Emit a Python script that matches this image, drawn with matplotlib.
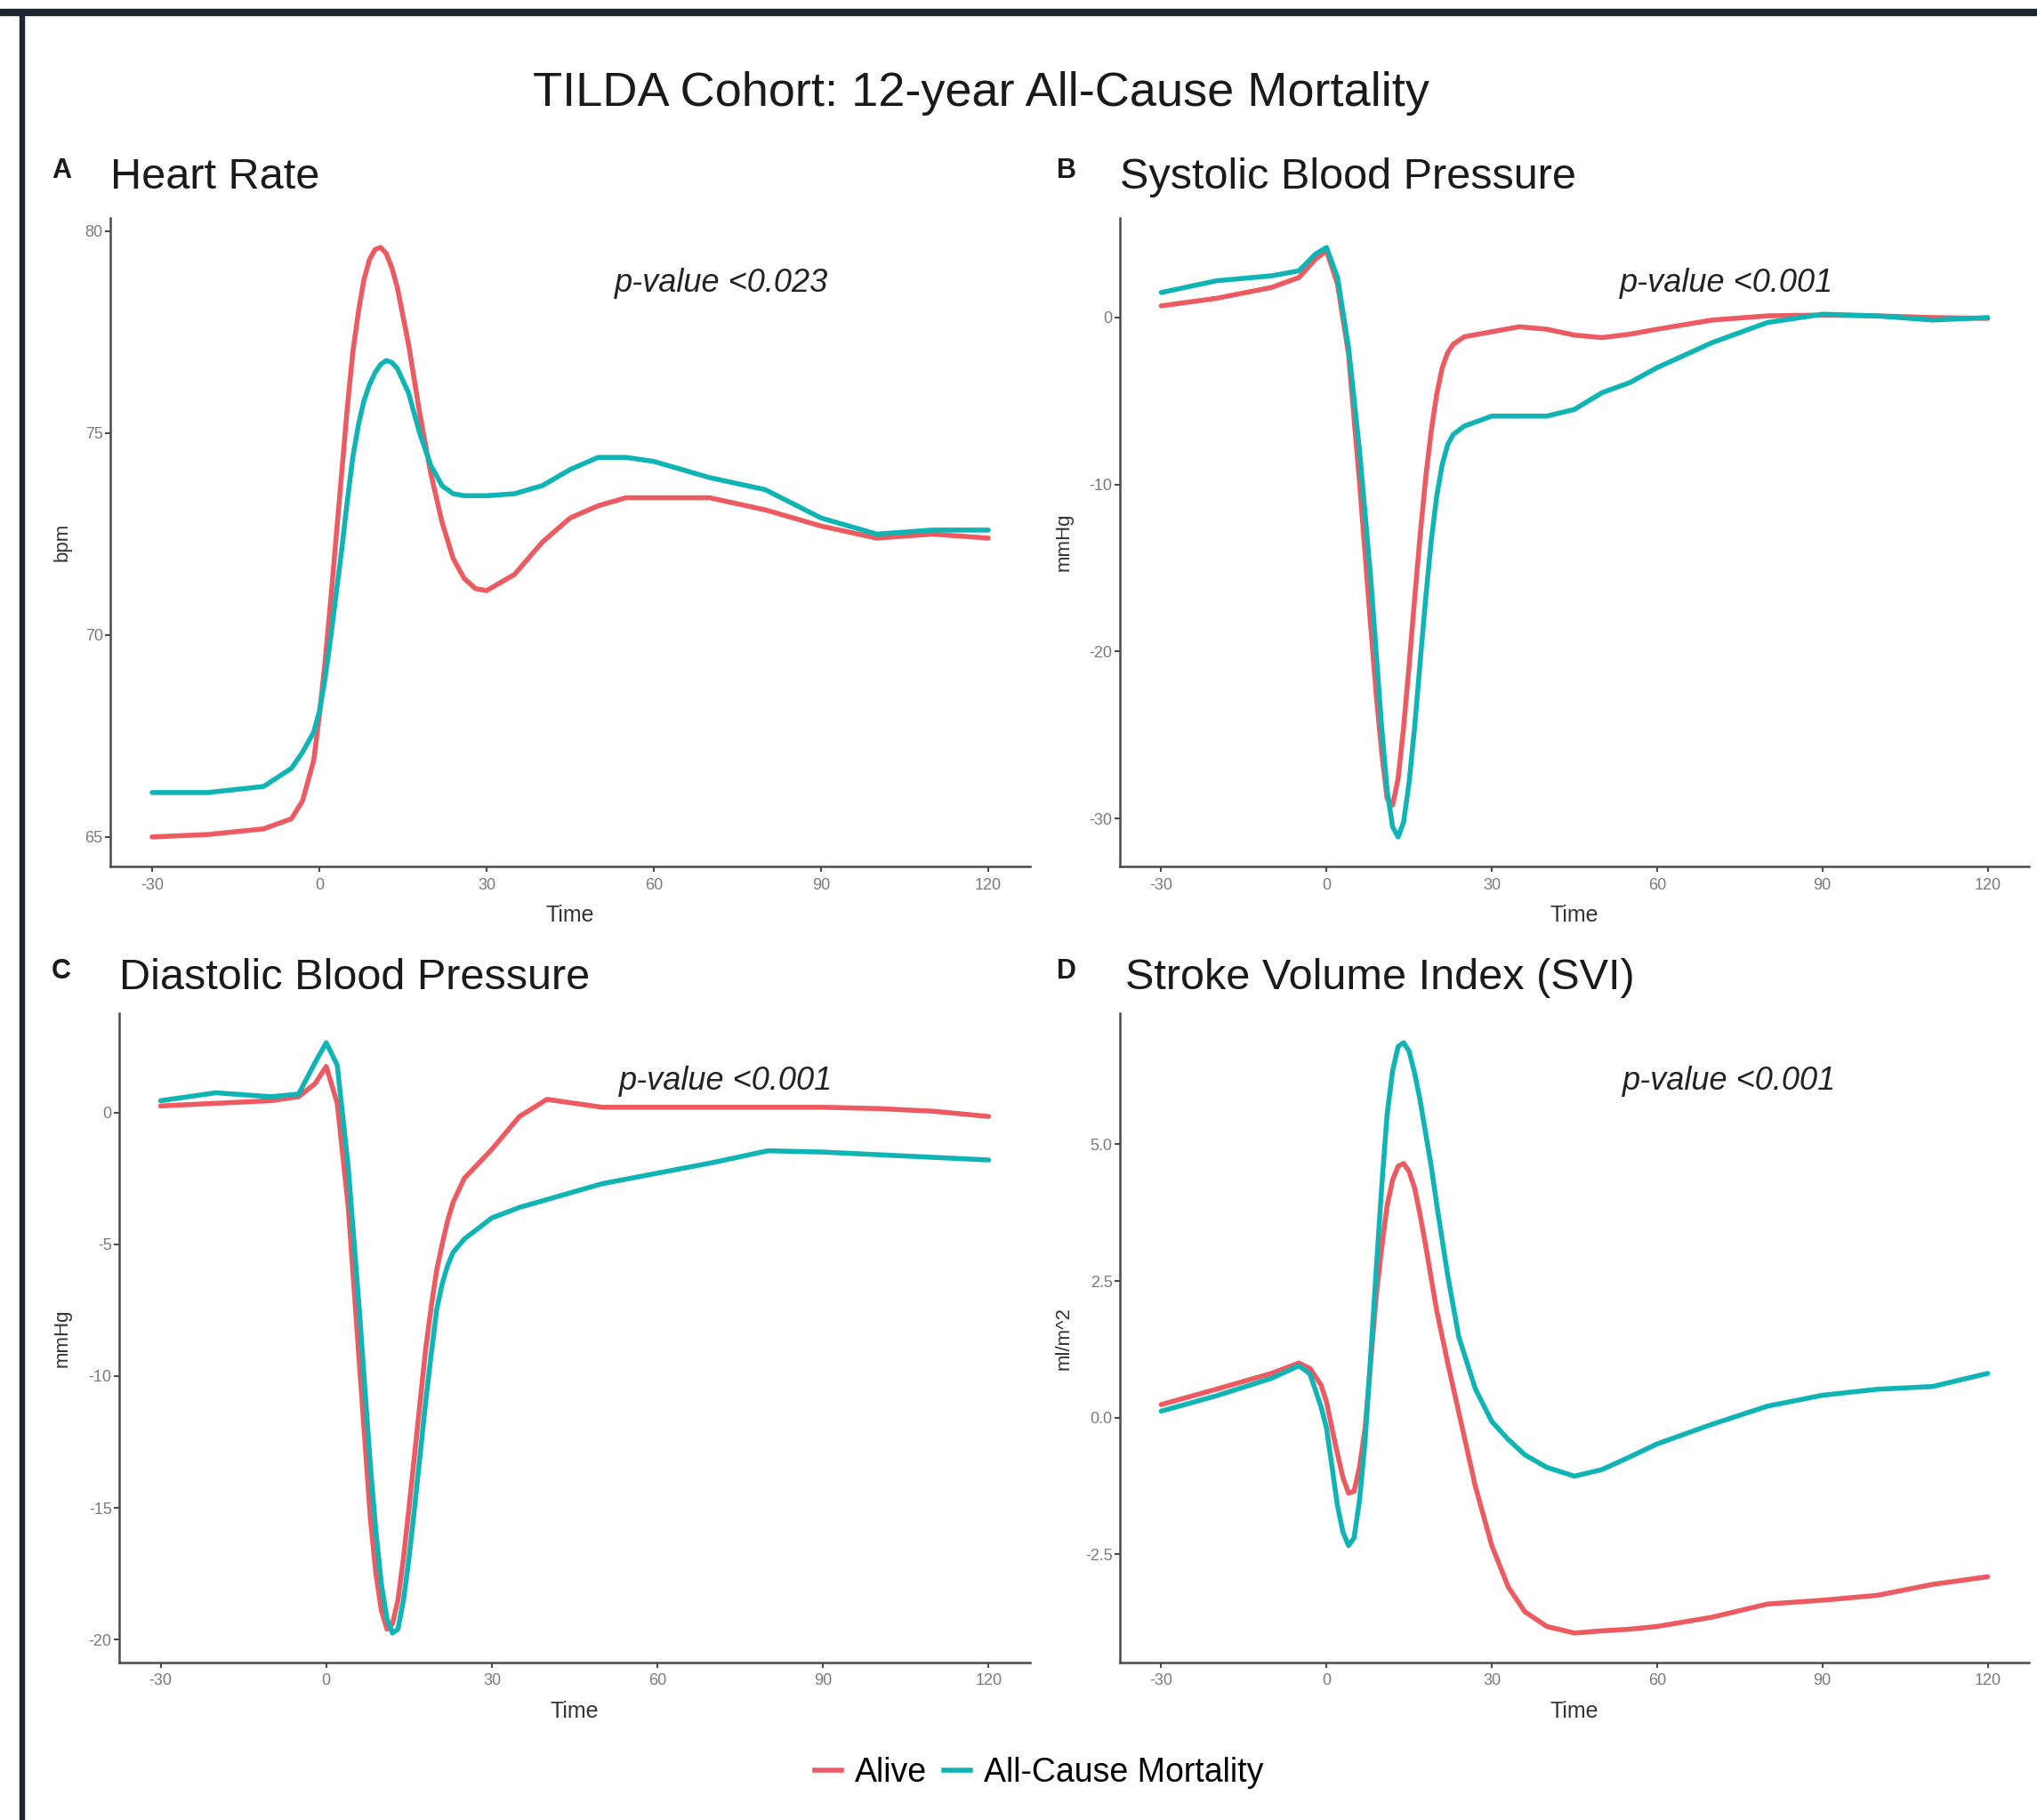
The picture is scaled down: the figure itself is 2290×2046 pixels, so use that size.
import matplotlib
matplotlib.use("Agg")
import matplotlib.pyplot as plt
from matplotlib.patches import Rectangle
from matplotlib.lines import Line2D

plt.rcParams['font.family'] = ['Liberation Sans', 'DejaVu Sans']

# ---------------- data ----------------
series_names = ["Alive", "All-Cause Mortality"]
x_ticks = [-30, 0, 30, 60, 90, 120]

# A: Heart Rate (bpm)
hr_time = [-30, -20, -10, -5, -3, -1, 0, 1, 2, 3, 4, 5, 6, 7, 8, 9, 10, 11, 12, 13, 14, 16,
           18, 20, 22, 24, 26, 28, 30, 35, 40, 45, 50, 55, 60, 70, 80, 90, 100, 110, 120]
hr_alive = [65.0, 65.06, 65.2, 65.45, 65.9, 66.9, 68.0, 69.3, 70.8, 72.4, 74.0, 75.6, 77.0,
            78.0, 78.8, 79.3, 79.55, 79.6, 79.45, 79.1, 78.6, 77.2, 75.5, 74.0, 72.8, 71.9,
            71.4, 71.15, 71.1, 71.5, 72.3, 72.9, 73.2, 73.4, 73.4, 73.4, 73.1, 72.7, 72.4,
            72.5, 72.4]
hr_mort = [66.1, 66.1, 66.25, 66.7, 67.1, 67.6, 68.1, 68.9, 69.9, 71.0, 72.1, 73.3, 74.4,
           75.2, 75.8, 76.2, 76.5, 76.7, 76.8, 76.75, 76.6, 76.0, 75.0, 74.2, 73.7, 73.5,
           73.45, 73.45, 73.45, 73.5, 73.7, 74.1, 74.4, 74.4, 74.3, 73.9, 73.6, 72.9, 72.5,
           72.6, 72.6]
hr_yticks = [65, 70, 75, 80]

# B: Systolic Blood Pressure (mmHg)
sbp_time = [-30, -20, -10, -5, -2, 0, 2, 4, 6, 8, 9, 10, 11, 12, 13, 14, 15, 16, 17, 18,
            19, 20, 21, 22, 23, 25, 30, 35, 40, 45, 50, 55, 60, 70, 80, 90, 100, 110, 120]
sbp_alive = [0.7, 1.15, 1.8, 2.4, 3.5, 4.0, 2.0, -2.2, -9.9, -18.4, -22.5, -26.0, -28.8,
             -29.2, -27.6, -24.5, -20.8, -16.8, -13.0, -9.6, -6.8, -4.6, -3.0, -2.1, -1.6,
             -1.15, -0.85, -0.55, -0.7, -1.05, -1.2, -1.0, -0.7, -0.15, 0.1, 0.15, 0.1,
             0.0, -0.05]
sbp_mort = [1.5, 2.2, 2.5, 2.8, 3.8, 4.2, 2.4, -1.8, -8.0, -15.5, -20.0, -24.5, -28.3,
            -30.5, -31.1, -30.2, -27.8, -24.5, -20.6, -16.8, -13.4, -10.7, -8.8, -7.6,
            -7.0, -6.5, -5.9, -5.9, -5.9, -5.5, -4.5, -3.9, -3.0, -1.5, -0.3, 0.2, 0.1,
            -0.15, 0.0]
sbp_yticks = [0, -10, -20, -30]

# C: Diastolic Blood Pressure (mmHg)
dbp_time = [-30, -20, -10, -5, -2, 0, 2, 4, 6, 8, 9, 10, 11, 12, 13, 14, 15, 16, 17, 18,
            19, 20, 21, 22, 23, 25, 30, 35, 40, 45, 50, 60, 70, 80, 90, 100, 110, 120]
dbp_alive = [0.25, 0.35, 0.45, 0.6, 1.1, 1.75, 0.35, -3.6, -9.5, -15.4, -17.5, -18.9,
             -19.6, -19.4, -18.5, -16.9, -15.0, -13.0, -11.0, -9.0, -7.4, -6.0, -5.0,
             -4.1, -3.4, -2.5, -1.4, -0.15, 0.5, 0.35, 0.2, 0.2, 0.2, 0.2, 0.2, 0.15,
             0.05, -0.15]
dbp_mort = [0.45, 0.75, 0.6, 0.7, 1.9, 2.65, 1.8, -2.1, -7.5, -13.4, -15.9, -17.9, -19.2,
            -19.75, -19.6, -18.5, -16.9, -15.0, -13.0, -11.0, -9.2, -7.5, -6.5, -5.8,
            -5.3, -4.8, -4.0, -3.6, -3.3, -3.0, -2.7, -2.3, -1.9, -1.45, -1.5, -1.6,
            -1.7, -1.8]
dbp_yticks = [0, -5, -10, -15, -20]

# D: Stroke Volume Index (ml/m^2)
svi_time = [-30, -20, -10, -5, -3, -1, 0, 1, 2, 3, 4, 5, 6, 7, 8, 9, 10, 11, 12, 13, 14,
            15, 16, 17, 18, 19, 20, 22, 24, 27, 30, 33, 36, 40, 45, 50, 55, 60, 70, 80,
            90, 100, 110, 120]
svi_alive = [0.24, 0.52, 0.81, 1.0, 0.9, 0.6, 0.29, -0.2, -0.67, -1.1, -1.38, -1.35, -0.9,
             -0.19, 1.0, 2.2, 3.1, 3.88, 4.35, 4.6, 4.65, 4.5, 4.2, 3.7, 3.15, 2.55, 1.96,
             1.0, 0.1, -1.25, -2.34, -3.1, -3.55, -3.82, -3.94, -3.9, -3.87, -3.82, -3.65,
             -3.41, -3.34, -3.25, -3.05, -2.91]
svi_mort = [0.12, 0.4, 0.72, 0.95, 0.8, 0.2, -0.19, -0.9, -1.62, -2.1, -2.34, -2.2, -1.5,
            -0.43, 1.1, 2.67, 4.2, 5.55, 6.35, 6.79, 6.86, 6.7, 6.3, 5.8, 5.2, 4.6, 3.9,
            2.6, 1.48, 0.53, -0.07, -0.4, -0.68, -0.91, -1.07, -0.95, -0.72, -0.48, -0.12,
            0.21, 0.41, 0.52, 0.57, 0.81]
svi_yticks = [5.0, 2.5, 0.0, -2.5]

panels = [
    ("A", "Heart Rate", "bpm", hr_time, hr_alive, hr_mort, hr_yticks, "%g", "p-value <0.023"),
    ("B", "Systolic Blood Pressure", "mmHg", sbp_time, sbp_alive, sbp_mort, sbp_yticks, "%g", "p-value <0.001"),
    ("C", "Diastolic Blood Pressure", "mmHg", dbp_time, dbp_alive, dbp_mort, dbp_yticks, "%g", "p-value <0.001"),
    ("D", "Stroke Volume Index (SVI)", "ml/m^2", svi_time, svi_alive, svi_mort, svi_yticks, "%.1f", "p-value <0.001"),
]

# ---------------- style ----------------
W, H = 2290, 2046
RED = "#EC5A62"
TEAL = "#10B4B5"
SPINE = "#4a4a4a"
TICKLAB = "#7a7a7a"

fig = plt.figure(figsize=(W / 100, H / 100), dpi=100)
fig.patch.set_facecolor("white")

def fx(px):
    return px / W

def fy(py):
    return 1 - py / H

# axes boxes in pixel coords: left, top, right, bottom
boxes = [
    (124, 245, 1158, 974),
    (1259, 245, 2281, 974),
    (134, 1139, 1158, 1869),
    (1259, 1139, 2281, 1869),
]
title_pos = [(58, 124, 177), (1188, 1259, 177), (58, 134, 1077), (1188, 1265, 1077)]
pval_pos = [(811, 328), (1941, 328), (816, 1225), (1944, 1225)]

for i, (letter, title, ylab, t, alive, mort, yt, fmt, ptxt) in enumerate(panels):
    l, tp, r, b = boxes[i]
    ax = fig.add_axes([fx(l), fy(b), (r - l) / W, (b - tp) / H])
    ax.plot(t, alive, color=RED, lw=4.0, solid_capstyle="round",
            solid_joinstyle="round", zorder=3)
    ax.plot(t, mort, color=TEAL, lw=4.0, solid_capstyle="round",
            solid_joinstyle="round", zorder=3)
    ax.margins(x=0.05, y=0.05)
    ax.set_xticks(x_ticks)
    ax.set_xticklabels([str(v) for v in x_ticks])
    ax.set_yticks(yt)
    ax.set_yticklabels([fmt % v for v in yt])
    for s in ["top", "right"]:
        ax.spines[s].set_visible(False)
    for s in ["left", "bottom"]:
        ax.spines[s].set_color(SPINE)
        ax.spines[s].set_linewidth(1.8)
    ax.tick_params(axis="both", colors=SPINE, labelcolor=TICKLAB, labelsize=13,
                   length=4, width=1.5)
    ax.tick_params(axis="x", pad=5)
    ax.tick_params(axis="y", pad=2)
    ax.set_xlabel("Time", fontsize=18, color="#333333")
    ax.xaxis.set_label_coords(0.5, -0.075)
    ax.xaxis.label.set_va("center")
    ax.set_ylabel(ylab, fontsize=16, color="#333333")
    ylx = -0.052 if i == 0 else -0.062
    ax.yaxis.set_label_coords(ylx, 0.5)
    ax.yaxis.label.set_va("center")

    lx, tx, ty = title_pos[i]
    fig.text(fx(lx), fy(ty), letter, fontsize=22, fontweight="bold", color="#1a1a1a",
             ha="left", va="top")
    fig.text(fx(tx), fy(ty), title, fontsize=35, color="#1a1a1a", ha="left", va="top")
    px, py = pval_pos[i]
    fig.text(fx(px), fy(py), ptxt, fontsize=26, style="italic", color="#222222",
             ha="center", va="baseline")

fig.text(fx(1103), fy(80), "TILDA Cohort: 12-year All-Cause Mortality", fontsize=39,
         color="#1a1a1a", ha="center", va="top")

handles = [Line2D([0], [0], color=RED, lw=4.0), Line2D([0], [0], color=TEAL, lw=4.0)]
fig.legend(handles, series_names, loc="center", bbox_to_anchor=(fx(1168), fy(1993)),
           ncol=2, frameon=False, fontsize=27, handlelength=0.8, handletextpad=0.4,
           columnspacing=0.5)

# image frame decorations
fig.patches.append(Rectangle((0, fy(17)), 1, 7 / H, transform=fig.transFigure,
                             color="#1f2433", zorder=10))
fig.patches.append(Rectangle((fx(22), 0), 5 / W, fy(17), transform=fig.transFigure,
                             color="#1f2433", zorder=10))

fig.savefig("out.png", dpi=100)
